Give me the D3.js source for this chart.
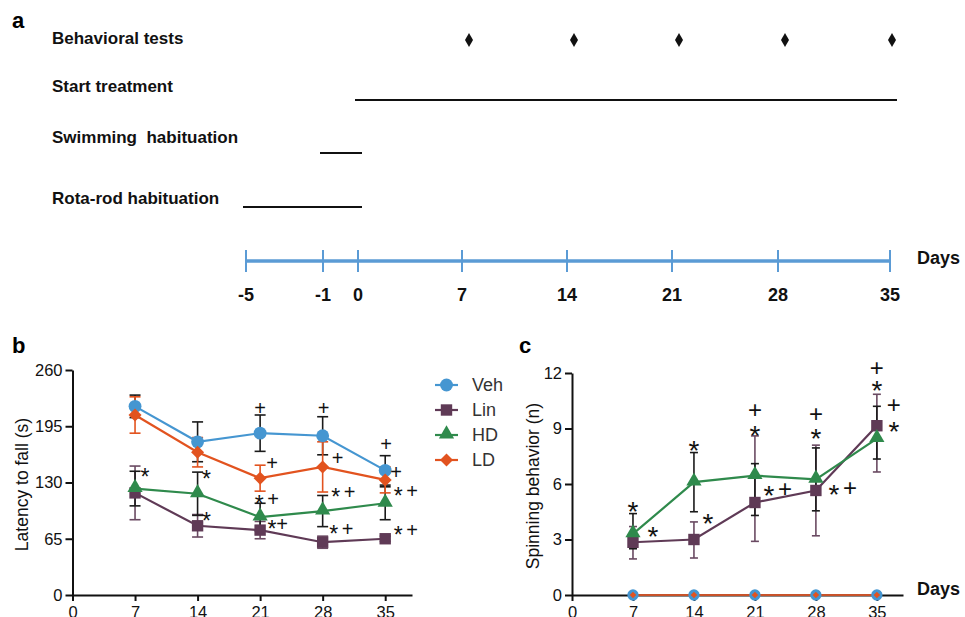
<!DOCTYPE html>
<html><head><meta charset="utf-8">
<script src="https://cdn.jsdelivr.net/npm/d3@7"></script>
<style>body{margin:0;background:#fff} svg{display:block;font-family:"Liberation Sans",Arial,sans-serif}</style>
</head><body><svg id="chart" width="965" height="617"></svg>
<script>
// ---------- data ----------
const timelineDays = [-5, -1, 0, 7, 14, 21, 28, 35];
const testDays = [7, 14, 21, 28, 35];
const tasks = ["Behavioral tests", "Start treatment", "Swimming  habituation", "Rota-rod habituation"];
const taskStart = [null, 0, -1, -5];
const taskEnd = [null, 35, 0, 0];

const days = [7, 14, 21, 28, 35];
const groups = ["Veh", "Lin", "HD", "LD"];
const xTicks = [0, 7, 14, 21, 28, 35];

// panel b: latency to fall (s), mean and SEM
const vehB = [218, 177, 187, 184, 144];
const vehBErr = [13, 23, 21, 22, 17];
const linB = [118, 80, 75, 61, 65];
const linBErr = [31, 13, 10, 7, 3];
const hdB = [123, 117, 90, 97, 106];
const hdBErr = [20, 25, 16, 18, 19];
const ldB = [208, 165, 135, 148, 133];
const ldBErr = [21, 17, 15, 29, 15];
const bTicks = [0, 65, 130, 195, 260];

// panel c: spinning behavior (n), mean, upper and lower bar ends
const vehC = [0, 0, 0, 0, 0];
const ldC = [0, 0, 0, 0, 0];
const linC = [2.85, 3.0, 5.0, 5.65, 9.15];
const linCHi = [3.7, 3.95, 8.6, 8.1, 10.85];
const linCLo = [1.95, 2.0, 2.9, 3.2, 6.65];
const hdC = [3.3, 6.1, 6.45, 6.25, 8.45];
const hdCHi = [4.4, 7.7, 7.1, 7.95, 10.2];
const hdCLo = [2.5, 4.5, 4.3, 4.55, 7.35];
const cTicks = [0, 3, 6, 9, 12];

// significance marks: [day, value, text, pixel shift right]
const bNotes = [
  [7, 142, "*", 10], [14, 140, "*", 9], [14, 91, "*", 9],
  [21, 216, "+", 0], [21, 153, "+", 12], [21, 111, "* +", 6], [21, 82, "*+", 17],
  [28, 216, "+", 1], [28, 158, "+", 15], [28, 119, "* +", 20], [28, 76, "* +", 18],
  [35, 174, "+", 1], [35, 142, "+", 11], [35, 120, "* +", 20], [35, 75, "* +", 20]
];
const cNotes = [
  [7, 4.86, "*", 0], [7, 3.5, "*", 20], [14, 8.16, "*", 0], [14, 4.2, "*", 14],
  [21, 10.0, "+", 0], [21, 8.97, "*", 0], [21, 5.73, "* +", 22],
  [28, 9.78, "+", 0], [28, 8.8, "*", 0], [28, 5.78, "* +", 26],
  [35, 12.3, "+", 0], [35, 11.4, "*", 0], [35, 10.27, "+", 17], [35, 9.19, "*", 17]
];

// ---------- styles ----------
const colors = { Veh: "#4596d1", Lin: "#5f3a56", HD: "#2f8a4c", LD: "#e2531f" };
const barColors = { Veh: "#1a1a1a", Lin: "#6a4a62", HD: "#1a1a1a", LD: "#e2531f" };
const shapes = { Veh: d3.symbolCircle, Lin: d3.symbolSquare, HD: d3.symbolTriangle, LD: d3.symbolSquare };
const sizes = { Veh: 130, Lin: 130, HD: 100, LD: 85 };
const rot = { Veh: 0, Lin: 0, HD: 0, LD: 45 };

const svg = d3.select("#chart");
svg.append("rect").attr("width", 965).attr("height", 617).attr("fill", "#fff");

// ---------- panel a ----------
svg.append("text").attr("x", 12).attr("y", 28).attr("font-size", 22).attr("font-weight", "bold").text("a");
const tl = d3.scaleLinear().domain([-5, -1, 0, 7, 14, 21, 28, 35]).range([246, 323, 358, 462, 567, 672, 778, 890]);
const rowTextY = [38, 86, 137, 198];
const rowLineY = [40, 100, 153, 207];
tasks.forEach((t, i) => {
  svg.append("text").attr("x", 52).attr("y", rowTextY[i]).attr("dy", "0.35em")
    .attr("font-size", 17).attr("font-weight", "bold").attr("fill", "#111")
    .attr("xml:space", "preserve").style("white-space", "pre").text(t);
  if (taskStart[i] !== null) {
    svg.append("line").attr("x1", tl(taskStart[i]) - 3).attr("x2", tl(taskEnd[i]) + (i === 1 ? 7 : 4))
      .attr("y1", rowLineY[i]).attr("y2", rowLineY[i]).attr("stroke", "#111").attr("stroke-width", 2.2);
  }
});
svg.selectAll(".dia").data(testDays).enter().append("path")
  .attr("d", "M0,-7L4,0L0,7L-4,0Z")
  .attr("transform", d => `translate(${tl(d) + (d === 35 ? 2 : 7)},${rowLineY[0]})`)
  .attr("fill", "#111");

const tlY = 261;
svg.append("line").attr("x1", tl(-5)).attr("x2", tl(35)).attr("y1", tlY).attr("y2", tlY)
  .attr("stroke", "#5b9bd5").attr("stroke-width", 3.5);
svg.selectAll(".tlt").data(timelineDays).enter().append("line")
  .attr("x1", d => tl(d)).attr("x2", d => tl(d)).attr("y1", tlY - 11).attr("y2", tlY + 11)
  .attr("stroke", "#5b9bd5").attr("stroke-width", 2);
svg.selectAll(".tll").data(timelineDays).enter().append("text")
  .attr("x", d => tl(d)).attr("y", 295).attr("dy", "0.35em").attr("text-anchor", "middle")
  .attr("font-size", 18).attr("font-weight", "bold").attr("fill", "#111").text(d => d);
svg.append("text").attr("x", 917).attr("y", 258).attr("dy", "0.35em").attr("font-size", 18)
  .attr("font-weight", "bold").attr("fill", "#111").text("Days");

// ---------- helpers ----------
function drawAxes(g, x, y, yTicks, x0, yLabel, labelX) {
  const ax = g.append("g").attr("transform", `translate(0,${y.range()[0]})`)
    .call(d3.axisBottom(x).tickValues(xTicks).tickSizeInner(6).tickSizeOuter(0).tickPadding(5));
  const ay = g.append("g").attr("transform", `translate(${x0},0)`)
    .call(d3.axisLeft(y).tickValues(yTicks).tickSizeInner(7).tickSizeOuter(0).tickPadding(3));
  [ax, ay].forEach(a => {
    a.select(".domain").attr("stroke", "#111").attr("stroke-width", 2);
    a.selectAll(".tick line").attr("stroke", "#111").attr("stroke-width", 2);
    a.selectAll(".tick text").attr("font-size", 16.5).attr("fill", "#111")
      .attr("font-family", "'Liberation Sans',Arial,sans-serif");
  });
  g.append("text").attr("transform", `translate(${labelX},${(y.range()[0] + y.range()[1]) / 2 + 2}) rotate(-90)`)
    .attr("text-anchor", "middle").attr("dy", "0.35em").attr("font-size", 17.5).attr("fill", "#111").text(yLabel);
}
function errBars(g, x, y, vals, lo, hi, color, cap) {
  days.forEach((d, i) => {
    const xx = x(d);
    g.append("line").attr("x1", xx).attr("x2", xx).attr("y1", y(lo[i])).attr("y2", y(hi[i]))
      .attr("stroke", color).attr("stroke-width", 1.6);
    [lo[i], hi[i]].forEach(v => g.append("line").attr("x1", xx - cap).attr("x2", xx + cap)
      .attr("y1", y(v)).attr("y2", y(v)).attr("stroke", color).attr("stroke-width", 1.6));
  });
}
function series(g, x, y, vals, grp, sizeScale) {
  g.append("path").datum(vals).attr("fill", "none").attr("stroke", colors[grp]).attr("stroke-width", 2.2)
    .attr("d", d3.line().x((v, i) => x(days[i])).y(v => y(v)));
  g.selectAll(null).data(vals).enter().append("path")
    .attr("d", d3.symbol().type(shapes[grp]).size(sizes[grp] * sizeScale))
    .attr("transform", (v, i) => `translate(${x(days[i])},${y(v) + (grp === "HD" ? -1 : 0)}) rotate(${rot[grp]})`)
    .attr("fill", colors[grp]);
}
// each mark glyph is its own text, centred on the given point
function notes(g, x, y, list, plusFs, starFs, gap) {
  list.forEach(([d, v, t, dx]) => {
    const chars = t.replace(/ /g, "").split("");
    const step = t.includes(" ") ? gap : gap * 0.72;
    chars.forEach((ch, k) => {
      const off = (k - (chars.length - 1) / 2) * step;
      const fs = ch === "*" ? starFs : plusFs;
      g.append("text").attr("x", x(d) + dx + off)
        .attr("y", y(v) + fs * (ch === "*" ? 0.57 : 0.35))
        .attr("text-anchor", "middle").attr("font-size", fs).attr("fill", "#111").text(ch);
    });
  });
}

// ---------- panel b ----------
const gb = svg.append("g");
gb.append("text").attr("x", 12).attr("y", 353).attr("font-size", 22).attr("font-weight", "bold").text("b");
const xb = d3.scaleLinear().domain([0, 38]).range([72.5, 412]);
const yb = d3.scaleLinear().domain([0, 260]).range([595, 370]);
drawAxes(gb, xb, yb, bTicks, 72.5, "Latency to fall (s)", 22);
const bData = { Veh: [vehB, vehBErr], Lin: [linB, linBErr], HD: [hdB, hdBErr], LD: [ldB, ldBErr] };
groups.forEach(gname => {
  const [m, e] = bData[gname];
  errBars(gb, xb, yb, m, m.map((v, i) => v - e[i]), m.map((v, i) => v + e[i]), barColors[gname], 5.5);
});
groups.forEach(gname => series(gb, xb, yb, bData[gname][0], gname, 1));
notes(gb, xb, yb, bNotes, 20, 23, 14);

// legend
groups.forEach((gname, i) => {
  const ly = 385 + i * 25;
  svg.append("line").attr("x1", 435).attr("x2", 458).attr("y1", ly).attr("y2", ly)
    .attr("stroke", colors[gname]).attr("stroke-width", 2.2);
  svg.append("path").attr("d", d3.symbol().type(shapes[gname]).size(sizes[gname]))
    .attr("transform", `translate(446.5,${ly + (gname === "HD" ? -1 : 0)}) rotate(${rot[gname]})`)
    .attr("fill", colors[gname]);
  svg.append("text").attr("x", 472).attr("y", ly).attr("dy", "0.36em").attr("font-size", 18)
    .attr("fill", "#333").text(gname);
});

// ---------- panel c ----------
const gc = svg.append("g");
gc.append("text").attr("x", 519).attr("y", 353).attr("font-size", 22).attr("font-weight", "bold").text("c");
const xc = d3.scaleLinear().domain([0, 38]).range([572, 903]);
const yc = d3.scaleLinear().domain([0, 12]).range([595, 373]);
drawAxes(gc, xc, yc, cTicks, 572, "Spinning behavior (n)", 533);
gc.append("text").attr("x", 917).attr("y", 589).attr("dy", "0.35em").attr("font-size", 18)
  .attr("font-weight", "bold").attr("fill", "#111").text("Days");
errBars(gc, xc, yc, linC, linCLo, linCHi, barColors.Lin, 4);
errBars(gc, xc, yc, hdC, hdCLo, hdCHi, barColors.HD, 4);
series(gc, xc, yc, linC, "Lin", 1);
series(gc, xc, yc, hdC, "HD", 1);
// Veh and LD at zero
gc.append("path").datum(ldC).attr("fill", "none").attr("stroke", "#c8532a").attr("stroke-width", 2)
  .attr("d", d3.line().x((v, i) => xc(days[i])).y(v => yc(v)));
gc.selectAll(null).data(vehC).enter().append("path")
  .attr("d", d3.symbol().type(d3.symbolCircle).size(100))
  .attr("transform", (v, i) => `translate(${xc(days[i])},${yc(v)})`).attr("fill", colors.Veh);
gc.selectAll(null).data(ldC).enter().append("path")
  .attr("d", d3.symbol().type(d3.symbolSquare).size(22))
  .attr("transform", (v, i) => `translate(${xc(days[i])},${yc(v)}) rotate(45)`).attr("fill", colors.LD);
notes(gc, xc, yc, cNotes, 24, 28, 16);
</script></body></html>
